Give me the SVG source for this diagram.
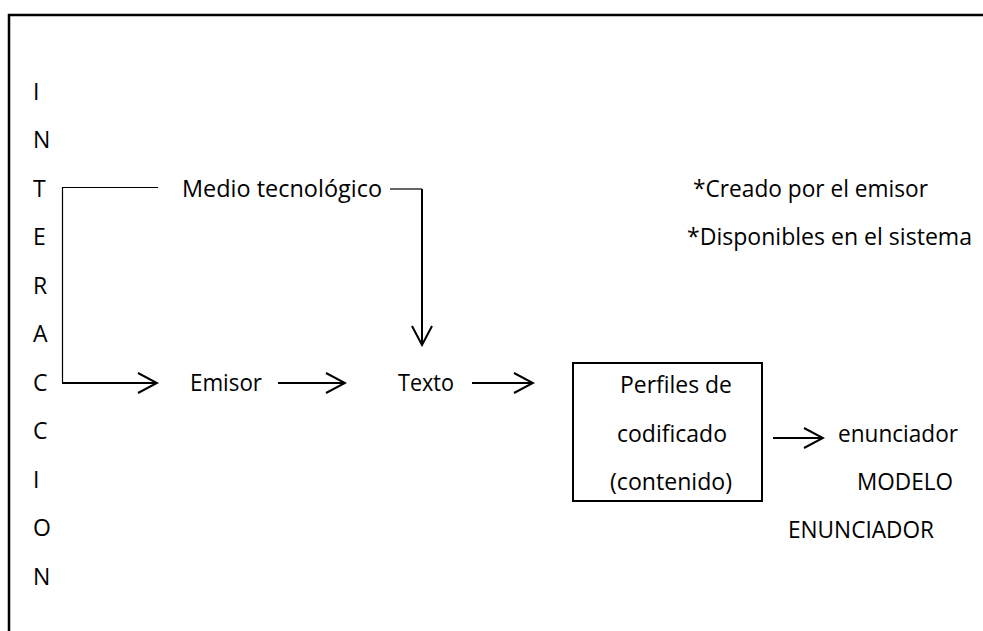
<svg xmlns="http://www.w3.org/2000/svg" width="983" height="631" viewBox="0 0 983 631">
<style>
  text { font-family: "Open Sans", "Noto Sans", "Liberation Sans", sans-serif; font-size: 23px; fill: #000; }
  .frame { fill: none; stroke: #000; stroke-width: 2.5; }
  .box { fill: #fff; stroke: #000; stroke-width: 2; }
  .thin { fill: none; stroke: #000; stroke-width: 1.2; }
  .arr { fill: none; stroke: #000; stroke-width: 2; marker-end: url(#chev); }
</style>
<defs>
  <marker id="chev" markerUnits="userSpaceOnUse" viewBox="-21 -12 23 24" refX="0" refY="0" markerWidth="23" markerHeight="24" orient="auto">
    <path d="M-19,-10 L0,0 L-19,10" fill="none" stroke="#000" stroke-width="2"/>
  </marker>
</defs>
<rect width="983" height="631" fill="#fff"/>
<path class="frame" d="M9,631 V15 H983"/>

<g id="interaccion">
  <text x="33" y="100">I</text>
  <text x="33" y="148">N</text>
  <text x="33" y="197">T</text>
  <text x="33" y="245">E</text>
  <text x="33" y="294">R</text>
  <text x="33" y="342">A</text>
  <text x="33" y="391">C</text>
  <text x="33" y="439">C</text>
  <text x="33" y="488">I</text>
  <text x="33" y="536">O</text>
  <text x="33" y="585">N</text>
</g>

<g id="medio">
  <text x="182" y="197" textLength="200" lengthAdjust="spacingAndGlyphs">Medio tecnológico</text>
</g>
<g id="notas">
  <text x="693" y="197" textLength="235" lengthAdjust="spacingAndGlyphs">*Creado por el emisor</text>
  <text x="687" y="245" textLength="285" lengthAdjust="spacingAndGlyphs">*Disponibles en el sistema</text>
</g>
<g id="emisor">
  <text x="190" y="391" textLength="72" lengthAdjust="spacingAndGlyphs">Emisor</text>
</g>
<g id="texto">
  <text x="398" y="391" textLength="56" lengthAdjust="spacingAndGlyphs">Texto</text>
</g>
<g id="perfiles">
  <rect class="box" x="573" y="363" width="189" height="138"/>
  <text x="620" y="393" textLength="112" lengthAdjust="spacingAndGlyphs">Perfiles de</text>
  <text x="617" y="442" textLength="110" lengthAdjust="spacingAndGlyphs">codificado</text>
  <text x="610" y="490" textLength="122" lengthAdjust="spacingAndGlyphs">(contenido)</text>
</g>
<g id="enunciador">
  <text x="838" y="442" textLength="120" lengthAdjust="spacingAndGlyphs">enunciador</text>
  <text x="857" y="490" textLength="96" lengthAdjust="spacingAndGlyphs">MODELO</text>
  <text x="788" y="538" textLength="146" lengthAdjust="spacingAndGlyphs">ENUNCIADOR</text>
</g>

<g id="connectors">
  <path class="thin" d="M158,187.5 H62.5 V383"/>
  <path class="arr" d="M62,383 H157"/>
  <path class="thin" d="M390,189 H422"/>
  <path class="arr" d="M422,189 V345"/>
  <path class="arr" d="M278,383 H345"/>
  <path class="arr" d="M472,383 H533"/>
  <path class="arr" d="M773,438 H823"/>
</g>
</svg>
